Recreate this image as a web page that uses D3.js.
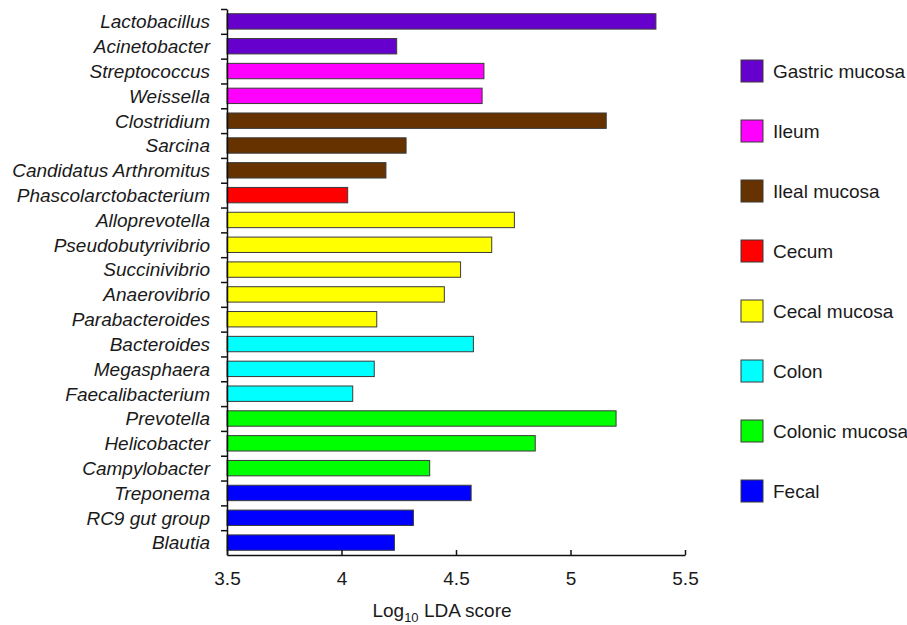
<!DOCTYPE html>
<html><head><meta charset="utf-8">
<script src="https://cdn.jsdelivr.net/npm/d3@7"></script>
<style>body{margin:0;background:#fff}svg{display:block}</style>
</head><body><svg id="c" width="907" height="625"></svg>
<script>
const taxa = ["Lactobacillus","Acinetobacter","Streptococcus","Weissella","Clostridium","Sarcina","Candidatus Arthromitus","Phascolarctobacterium","Alloprevotella","Pseudobutyrivibrio","Succinivibrio","Anaerovibrio","Parabacteroides","Bacteroides","Megasphaera","Faecalibacterium","Prevotella","Helicobacter","Campylobacter","Treponema","RC9 gut group","Blautia"];
const ldaScores = [5.373,4.241,4.622,4.614,5.156,4.282,4.194,4.027,4.755,4.656,4.520,4.449,4.154,4.576,4.143,4.049,5.199,4.846,4.385,4.566,4.314,4.231];
const taxonGroup = ["Gastric mucosa","Gastric mucosa","Ileum","Ileum","Ileal mucosa","Ileal mucosa","Ileal mucosa","Cecum","Cecal mucosa","Cecal mucosa","Cecal mucosa","Cecal mucosa","Cecal mucosa","Colon","Colon","Colon","Colonic mucosa","Colonic mucosa","Colonic mucosa","Fecal","Fecal","Fecal"];
const groups = ["Gastric mucosa","Ileum","Ileal mucosa","Cecum","Cecal mucosa","Colon","Colonic mucosa","Fecal"];
const groupColors = ["#6600cc","#ff00ff","#663300","#ff0000","#ffff00","#00ffff","#00ff00","#0000ff"];
const xTicks = [3.5,4,4.5,5,5.5];

const svg = d3.select("#c");
const font = "'Liberation Sans', Arial, sans-serif";
const fs = 19;
const x = d3.scaleLinear().domain([3.5,5.5]).range([227,685]);
const y = d3.scaleBand().domain(taxa).range([9,555]).paddingInner(0.38).paddingOuter(0.19);
const color = d3.scaleOrdinal().domain(groups).range(groupColors);
const yIdx = d3.scaleLinear().domain([0,taxa.length]).range([9,555]);

// bars
svg.append("g").selectAll("rect").data(taxa).join("rect")
  .attr("x", x(3.5))
  .attr("y", d => y(d))
  .attr("width", (d,i) => x(ldaScores[i]) - x(3.5))
  .attr("height", y.bandwidth())
  .attr("fill", (d,i) => color(taxonGroup[i]))
  .attr("stroke", "#3a3a3a").attr("stroke-width", 1);

// y axis with boundary ticks
const ya = svg.append("g").attr("transform","translate(227,0)")
  .call(d3.axisLeft(yIdx).tickValues(d3.range(0,taxa.length)).tickFormat("").tickSize(6).tickSizeOuter(0));
ya.selectAll("line").attr("stroke","#111").attr("stroke-width",1.5);
ya.select(".domain").attr("stroke","#111").attr("stroke-width",1.5);

// y labels
svg.append("g").selectAll("text").data(taxa).join("text")
  .attr("x", 210).attr("y", d => y(d) + y.bandwidth()/2)
  .attr("dy","0.36em").attr("text-anchor","end")
  .attr("font-family", font).attr("font-size", fs).attr("font-style","italic")
  .attr("fill","#1a1a1a").text(d => d);

// x axis
const xa = svg.append("g").attr("transform","translate(0,555)")
  .call(d3.axisBottom(x).tickValues(xTicks).tickFormat(d3.format("")).tickSizeInner(-5).tickSizeOuter(0).tickPadding(16.5));
xa.select(".domain").attr("stroke","#111").attr("stroke-width",1.5);
xa.selectAll("line").attr("stroke","#111").attr("stroke-width",1.5);
xa.selectAll("text").attr("font-family", font).attr("font-size", fs).attr("fill","#1a1a1a");

// x title
const t = svg.append("text").attr("x", 442).attr("y", 617).attr("text-anchor","middle")
  .attr("font-family", font).attr("font-size", fs).attr("fill","#1a1a1a");
t.append("tspan").text("Log");
t.append("tspan").attr("font-size", 13).attr("dy", 5).text("10");
t.append("tspan").attr("dy", -5).text(" LDA score");

// legend
const lg = svg.append("g").selectAll("g").data(groups).join("g")
  .attr("transform", (d,i) => `translate(741,${60 + i*60})`);
lg.append("rect").attr("width",22).attr("height",22)
  .attr("fill", d => color(d)).attr("stroke","#3a3a3a").attr("stroke-width",1);
lg.append("text").attr("x", 32).attr("y", 11).attr("dy","0.36em")
  .attr("font-family", font).attr("font-size", fs).attr("fill","#1a1a1a").text(d => d);
</script></body></html>
